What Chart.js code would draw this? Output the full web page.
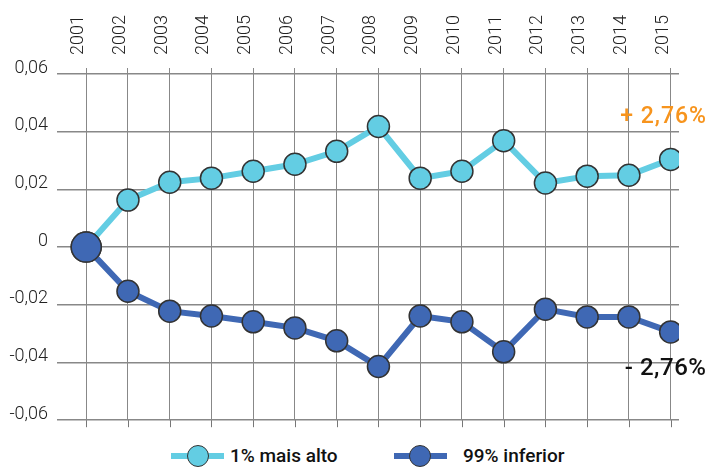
<!DOCTYPE html>
<html>
<head>
<meta charset="utf-8">
<script src="https://cdn.jsdelivr.net/npm/chart.js@4"></script>
<style>
  body { margin: 0; background: #fff; font-family: Roboto, sans-serif; }
  #wrap { position: relative; width: 708px; height: 440px; }
  .legend { position: absolute; top: 445px; left: 0; width: 708px; height: 22px; }
  .item { position: absolute; top: 0; height: 22px; }
  .item .bar { position: absolute; top: 8px; left: 0; width: 53px; height: 6px; }
  .item .dot { position: absolute; top: 0; width: 22px; height: 22px; box-sizing: border-box; border-radius: 50%; border: 1.5px solid #333; }
  .item .txt { position: absolute; top: 0; line-height: 22px; font-size: 19px; font-weight: 500; color: #111; white-space: nowrap; }
</style>
</head>
<body>
<div id="wrap"><canvas id="lineChart"></canvas></div>
<div class="legend">
  <div class="item" style="left:171px">
    <div class="bar" style="background:#63cde3"></div>
    <div class="dot" style="left:16px;background:#63cde3"></div>
    <div class="txt" style="left:59px">1% mais alto</div>
  </div>
  <div class="item" style="left:394px">
    <div class="bar" style="background:#3f68b4"></div>
    <div class="dot" style="left:15px;background:#3f68b4"></div>
    <div class="txt" style="left:69px">99% inferior</div>
  </div>
</div>
<script>
  // Data
  const years = ['2001', '2002', '2003', '2004', '2005', '2006', '2007', '2008',
                 '2009', '2010', '2011', '2012', '2013', '2014', '2015'];
  const top1 = [0, 0.0163, 0.0225, 0.0239, 0.0263, 0.0287, 0.0332, 0.0418,
                0.0239, 0.0263, 0.0369, 0.0222, 0.0246, 0.0249, 0.0304];
  const bottom99 = [0, -0.0153, -0.0222, -0.0239, -0.0259, -0.028, -0.0325, -0.0414,
                    -0.0239, -0.0259, -0.0363, -0.0215, -0.0242, -0.0242, -0.0294];
  const yTicks = [-0.06, -0.04, -0.02, 0, 0.02, 0.04, 0.06];
  const yTickLabels = ['-0,06', '-0,04', '-0,02', '0', '0,02', '0,04', '0,06'];
  const upLabel = '+ 2,76%';
  const downLabel = '- 2,76%';

  const lightBlue = '#63cde3';
  const darkBlue = '#3f68b4';

  // small tick marks under the bottom line + the two end labels
  const extras = {
    id: 'extras',
    beforeDatasetsDraw(chart) {
      const { ctx, chartArea, scales } = chart;
      ctx.save();
      ctx.strokeStyle = '#777';
      ctx.lineWidth = 1;
      years.forEach((y, i) => {
        const x = Math.round(scales.x.getPixelForValue(i)) + 0.5;
        ctx.beginPath();
        ctx.moveTo(x, chartArea.bottom);
        ctx.lineTo(x, chartArea.bottom + 7);
        ctx.stroke();
      });
      ctx.restore();
    },
    afterDatasetsDraw(chart) {
      const { ctx, scales } = chart;
      const last = years.length - 1;
      const x = scales.x.getPixelForValue(last);
      ctx.save();
      ctx.textAlign = 'center';
      ctx.textBaseline = 'middle';
      ctx.font = '500 23px Roboto';
      ctx.letterSpacing = '1px';
      ctx.fillStyle = '#f7941d';
      ctx.fillText(upLabel, x - 7, scales.y.getPixelForValue(top1[last]) - 42);
      ctx.font = '500 24px Roboto';
      ctx.letterSpacing = '0.5px';
      ctx.fillStyle = '#111';
      ctx.fillText(downLabel, x - 5, scales.y.getPixelForValue(bottom99[last]) + 37);
      ctx.restore();
    }
  };

  const pointSize = ctx => ctx.dataIndex === 0 ? 15 : 11;

  const ctx = document.getElementById('lineChart').getContext('2d');
  new Chart(ctx, {
    type: 'line',
    data: {
      datasets: [{
        label: '1% mais alto',
        data: top1.map((v, i) => ({ x: i, y: v })),
        borderColor: lightBlue,
        backgroundColor: lightBlue,
        borderWidth: 6,
        pointRadius: pointSize,
        pointBorderColor: '#333',
        pointBorderWidth: 1.5,
        tension: 0,
        order: 2
      }, {
        label: '99% inferior',
        data: bottom99.map((v, i) => ({ x: i, y: v })),
        borderColor: darkBlue,
        backgroundColor: darkBlue,
        borderWidth: 6,
        pointRadius: pointSize,
        pointBorderColor: '#333',
        pointBorderWidth: 1.5,
        tension: 0,
        order: 1
      }]
    },
    options: {
      responsive: true,
      maintainAspectRatio: false,
      animation: false,
      layout: { padding: { top: 0, bottom: 17, right: 29, left: 0 } },
      plugins: {
        legend: { display: false },
        tooltip: { enabled: false }
      },
      scales: {
        x: {
          type: 'linear',
          position: 'top',
          min: -0.7,
          max: 14.2,
          afterFit: s => { s.height = 74; },
          afterBuildTicks: s => { s.ticks = years.map((y, i) => ({ value: i })); },
          ticks: {
            callback: v => years[v],
            minRotation: 90,
            maxRotation: 90,
            autoSkip: false,
            includeBounds: false,
            padding: 13,
            labelOffset: 14,
            color: '#222',
            font: { family: 'Roboto', size: 18, weight: 300 }
          },
          grid: { color: '#888', lineWidth: 1, tickLength: 6 },
          border: { display: false }
        },
        y: {
          min: -0.06,
          max: 0.06,
          afterFit: s => { s.width = 57; },
          afterBuildTicks: s => { s.ticks = yTicks.map(v => ({ value: v })); },
          ticks: {
            callback: (v, i) => yTickLabels[i],
            padding: 9,
            labelOffset: -6,
            color: '#222',
            font: { family: 'Roboto', size: 18, weight: 300 }
          },
          grid: { color: '#888', lineWidth: 1.5, drawTicks: false },
          border: { display: false }
        }
      }
    },
    plugins: [extras]
  });
</script>
</body>
</html>
